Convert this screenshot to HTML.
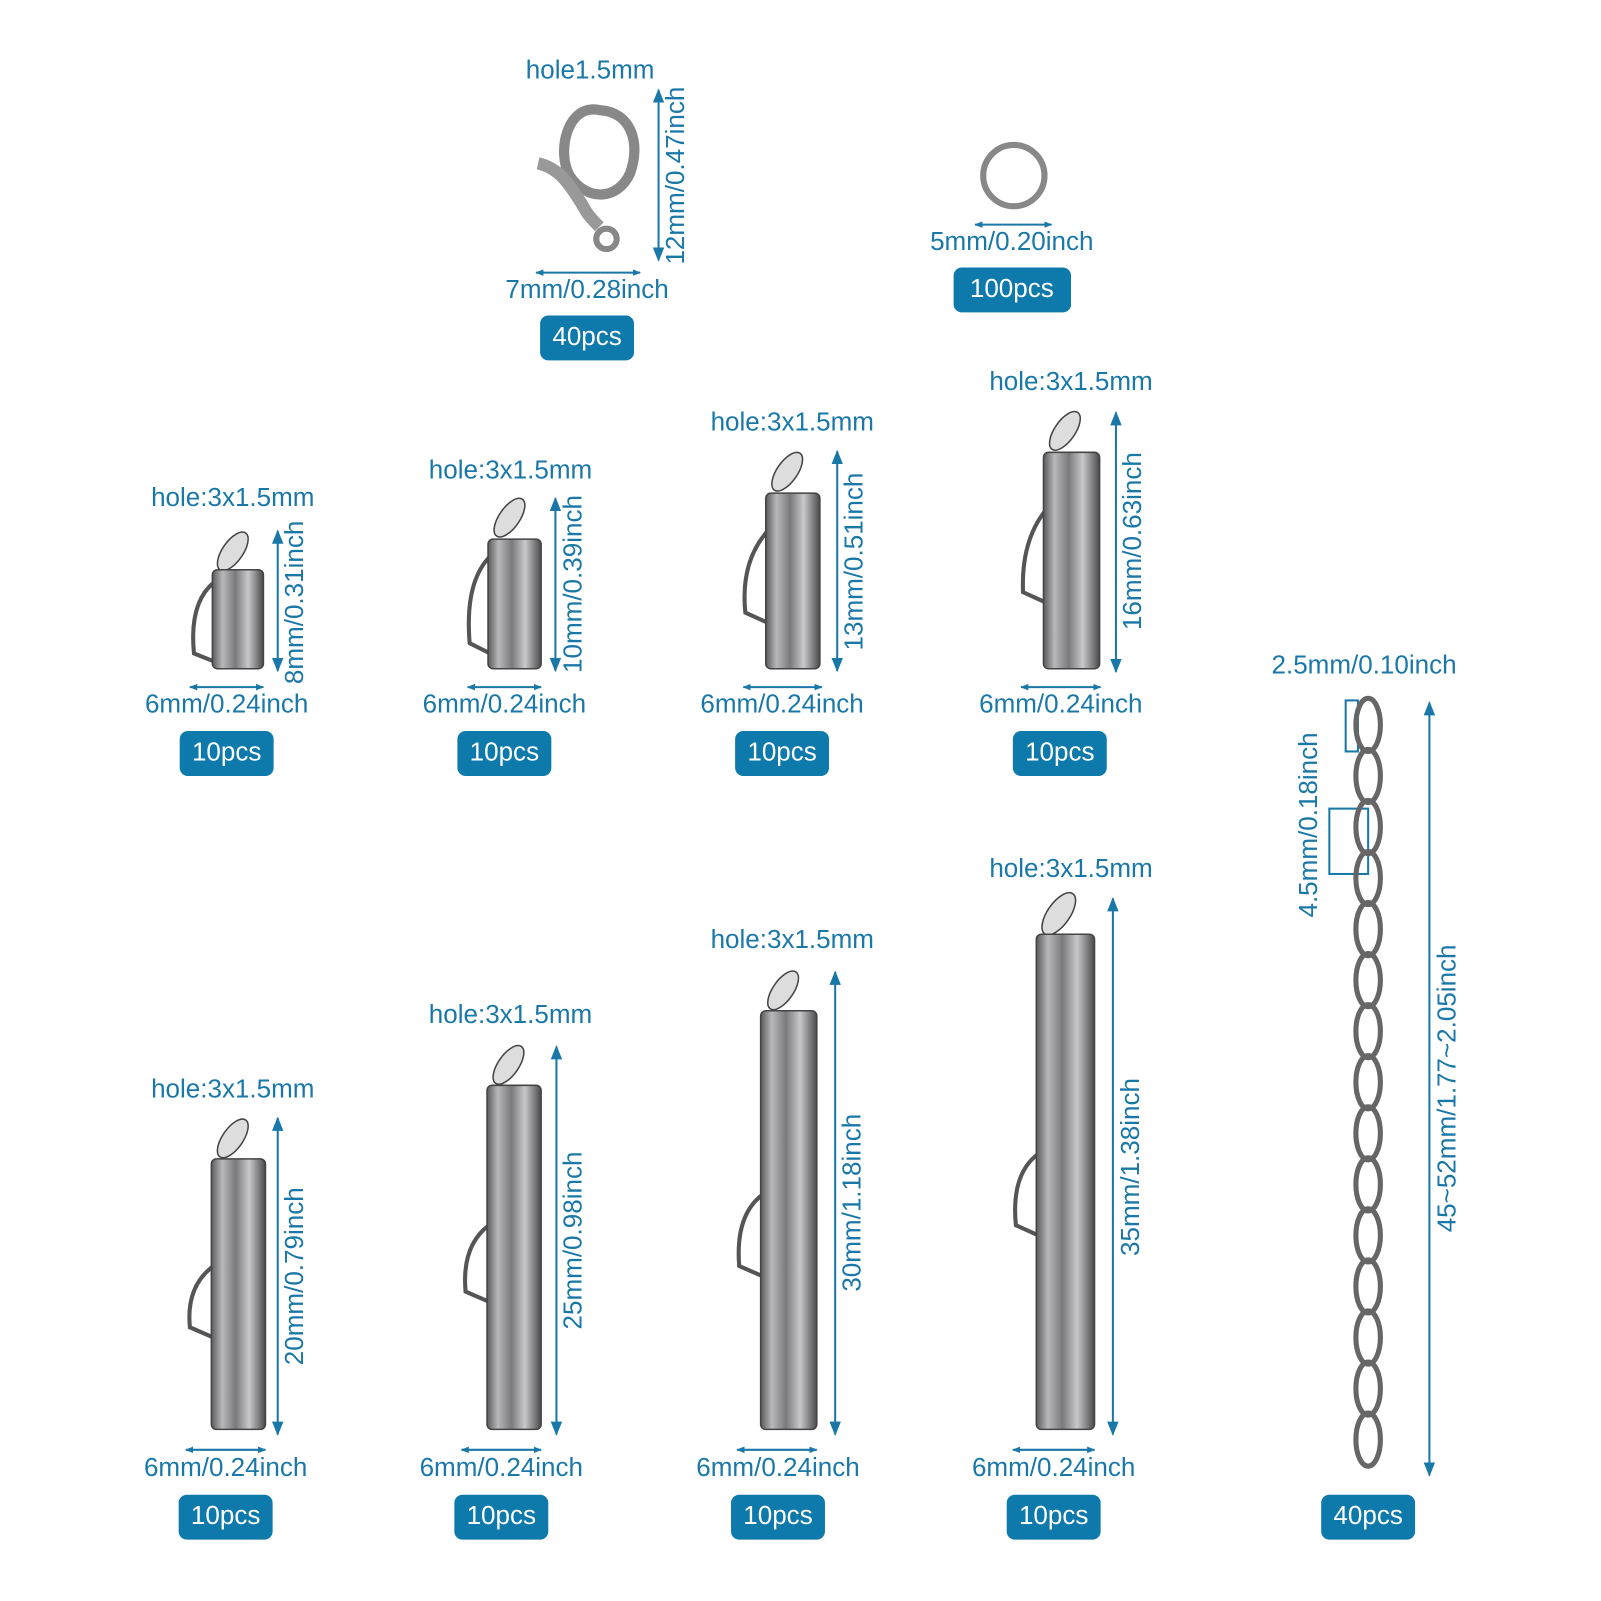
<!DOCTYPE html>
<html><head><meta charset="utf-8"><style>
html,body{margin:0;padding:0;background:#fff;}
svg{display:block;}
text{font-family:"Liberation Sans",sans-serif;font-size:25.5px;fill:#1a78a8;}
.b text{fill:#fff;}
</style></head><body>
<svg width="1601" height="1601" viewBox="0 0 1601 1601" xmlns="http://www.w3.org/2000/svg">
<defs>
<linearGradient id="g" x1="0" x2="1" y1="0" y2="0">
<stop offset="0" stop-color="#5a5a5c"/><stop offset="0.2" stop-color="#b8b8ba"/><stop offset="0.45" stop-color="#7a7a7c"/><stop offset="0.7" stop-color="#c8c8ca"/><stop offset="1" stop-color="#4a4a4c"/>
</linearGradient>
<marker id="a" viewBox="0 0 10 10" refX="9" refY="5" markerWidth="7" markerHeight="7" orient="auto-start-reverse"><path d="M0,1 L10,5 L0,9z" fill="#1a78a8"/></marker>
<marker id="s" viewBox="0 0 10 10" refX="9" refY="5" markerWidth="4" markerHeight="4" orient="auto-start-reverse"><path d="M0,1 L10,5 L0,9z" fill="#1a78a8"/></marker>
</defs>
<g transform="scale(1.021)">
<g stroke="#1a78a8" stroke-width="2" fill="none">
<line x1="272" y1="520" x2="272" y2="657" marker-start="url(#a)" marker-end="url(#a)"/>
<line x1="544" y1="488" x2="544" y2="657" marker-start="url(#a)" marker-end="url(#a)"/>
<line x1="820" y1="442" x2="820" y2="657" marker-start="url(#a)" marker-end="url(#a)"/>
<line x1="1093" y1="404" x2="1093" y2="658" marker-start="url(#a)" marker-end="url(#a)"/>
<line x1="272" y1="1095" x2="272" y2="1405" marker-start="url(#a)" marker-end="url(#a)"/>
<line x1="545" y1="1025" x2="545" y2="1405" marker-start="url(#a)" marker-end="url(#a)"/>
<line x1="818" y1="952" x2="818" y2="1405" marker-start="url(#a)" marker-end="url(#a)"/>
<line x1="1090" y1="880" x2="1090" y2="1405" marker-start="url(#a)" marker-end="url(#a)"/>
<line x1="1400" y1="688" x2="1400" y2="1445" marker-start="url(#a)" marker-end="url(#a)"/>
<line x1="645" y1="88" x2="645" y2="255" marker-start="url(#a)" marker-end="url(#a)"/>
<line x1="186" y1="673" x2="258" y2="673" marker-start="url(#s)" marker-end="url(#s)"/>
<line x1="458" y1="673" x2="530" y2="673" marker-start="url(#s)" marker-end="url(#s)"/>
<line x1="728" y1="673" x2="805" y2="673" marker-start="url(#s)" marker-end="url(#s)"/>
<line x1="1000" y1="673" x2="1078" y2="673" marker-start="url(#s)" marker-end="url(#s)"/>
<line x1="182" y1="1420" x2="260" y2="1420" marker-start="url(#s)" marker-end="url(#s)"/>
<line x1="452" y1="1420" x2="530" y2="1420" marker-start="url(#s)" marker-end="url(#s)"/>
<line x1="722" y1="1420" x2="800" y2="1420" marker-start="url(#s)" marker-end="url(#s)"/>
<line x1="992" y1="1420" x2="1072" y2="1420" marker-start="url(#s)" marker-end="url(#s)"/>
<line x1="525" y1="267" x2="627" y2="267" marker-start="url(#s)" marker-end="url(#s)"/>
<line x1="955" y1="220" x2="1030" y2="220" marker-start="url(#s)" marker-end="url(#s)"/>
<rect x="1318" y="686" width="12" height="50"/>
<rect x="1302" y="792" width="38" height="64"/>
</g>
<g stroke="#444" stroke-width="1.5">
<g fill="none" stroke="#555" stroke-width="4">
<path d="M210,570 Q185,590 190,640 L210,648"/>
<path d="M480,545 Q455,570 460,630 L480,640"/>
<path d="M752,520 Q725,550 730,600 L752,610"/>
<path d="M1024,500 Q1000,530 1002,580 L1024,590"/>
<path d="M209,1240 Q182,1260 186,1300 L209,1310"/>
<path d="M479,1200 Q452,1220 456,1265 L479,1275"/>
<path d="M747,1170 Q720,1190 724,1240 L747,1250"/>
<path d="M1017,1130 Q990,1150 995,1200 L1017,1210"/>
</g>
<ellipse cx="228" cy="540" rx="10" ry="22" transform="rotate(35 228 540)" fill="#ddd"/>
<rect x="208" y="558" width="50" height="97" rx="5" fill="url(#g)"/>
<ellipse cx="499" cy="507" rx="10" ry="22" transform="rotate(35 499 507)" fill="#ddd"/>
<rect x="478" y="528" width="52" height="127" rx="5" fill="url(#g)"/>
<ellipse cx="771" cy="462" rx="10" ry="22" transform="rotate(35 771 462)" fill="#ddd"/>
<rect x="750" y="483" width="53" height="172" rx="5" fill="url(#g)"/>
<ellipse cx="1043" cy="422" rx="10" ry="22" transform="rotate(35 1043 422)" fill="#ddd"/>
<rect x="1022" y="443" width="55" height="212" rx="5" fill="url(#g)"/>
<ellipse cx="228" cy="1115" rx="10" ry="22" transform="rotate(35 228 1115)" fill="#ddd"/>
<rect x="207" y="1135" width="53" height="265" rx="5" fill="url(#g)"/>
<ellipse cx="498" cy="1043" rx="10" ry="22" transform="rotate(35 498 1043)" fill="#ddd"/>
<rect x="477" y="1063" width="53" height="337" rx="5" fill="url(#g)"/>
<ellipse cx="767" cy="970" rx="10" ry="22" transform="rotate(35 767 970)" fill="#ddd"/>
<rect x="745" y="990" width="55" height="410" rx="5" fill="url(#g)"/>
<ellipse cx="1037" cy="895" rx="11" ry="24" transform="rotate(35 1037 895)" fill="#ddd"/>
<rect x="1015" y="915" width="57" height="485" rx="5" fill="url(#g)"/>
</g>
<g stroke="#555" fill="none">
<path d="M588,108 C555,100 545,150 558,172 C575,198 605,196 617,170 C628,140 618,110 588,108z" stroke-width="10" stroke="#888"/>
<path d="M527,160 C550,165 560,185 570,200 C575,210 580,215 587,222" stroke-width="12" stroke="#999"/>
<circle cx="594" cy="234" r="10" stroke-width="6" stroke="#888"/>
<circle cx="993" cy="172" r="30" stroke-width="6" stroke="#888"/>
</g>
<g fill="none" stroke="#666" stroke-width="5">
<ellipse cx="1340" cy="710" rx="12" ry="26"/><ellipse cx="1340" cy="760" rx="12" ry="26"/>
<ellipse cx="1340" cy="810" rx="12" ry="26"/><ellipse cx="1340" cy="860" rx="12" ry="26"/>
<ellipse cx="1340" cy="910" rx="12" ry="26"/><ellipse cx="1340" cy="960" rx="12" ry="26"/>
<ellipse cx="1340" cy="1010" rx="12" ry="26"/><ellipse cx="1340" cy="1060" rx="12" ry="26"/>
<ellipse cx="1340" cy="1110" rx="12" ry="26"/><ellipse cx="1340" cy="1160" rx="12" ry="26"/>
<ellipse cx="1340" cy="1210" rx="12" ry="26"/><ellipse cx="1340" cy="1260" rx="12" ry="26"/>
<ellipse cx="1340" cy="1310" rx="12" ry="26"/><ellipse cx="1340" cy="1360" rx="12" ry="26"/>
<ellipse cx="1340" cy="1410" rx="12" ry="26"/>
</g>
<g text-anchor="middle" dominant-baseline="middle">
<text x="578" y="70">hole1.5mm</text>
<text x="575" y="285">7mm/0.28inch</text>
<text x="991" y="238">5mm/0.20inch</text>
<text x="228" y="489">hole:3x1.5mm</text>
<text x="500" y="462">hole:3x1.5mm</text>
<text x="776" y="415">hole:3x1.5mm</text>
<text x="1049" y="375">hole:3x1.5mm</text>
<text x="222" y="691">6mm/0.24inch</text>
<text x="494" y="691">6mm/0.24inch</text>
<text x="766" y="691">6mm/0.24inch</text>
<text x="1039" y="691">6mm/0.24inch</text>
<text x="228" y="1068">hole:3x1.5mm</text>
<text x="500" y="995">hole:3x1.5mm</text>
<text x="776" y="922">hole:3x1.5mm</text>
<text x="1049" y="852">hole:3x1.5mm</text>
<text x="221" y="1439">6mm/0.24inch</text>
<text x="491" y="1439">6mm/0.24inch</text>
<text x="762" y="1439">6mm/0.24inch</text>
<text x="1032" y="1439">6mm/0.24inch</text>
<text x="1336" y="653">2.5mm/0.10inch</text>
<text transform="translate(663,172) rotate(-90)">12mm/0.47inch</text>
<text transform="translate(290,590) rotate(-90)">8mm/0.31inch</text>
<text transform="translate(563,572) rotate(-90)">10mm/0.39inch</text>
<text transform="translate(838,550) rotate(-90)">13mm/0.51inch</text>
<text transform="translate(1111,530) rotate(-90)">16mm/0.63inch</text>
<text transform="translate(290,1250) rotate(-90)">20mm/0.79inch</text>
<text transform="translate(563,1215) rotate(-90)">25mm/0.98inch</text>
<text transform="translate(836,1178) rotate(-90)">30mm/1.18inch</text>
<text transform="translate(1109,1143) rotate(-90)">35mm/1.38inch</text>
<text transform="translate(1283,808) rotate(-90)">4.5mm/0.18inch</text>
<text transform="translate(1419,1066) rotate(-90)">45~52mm/1.77~2.05inch</text>
</g>
<g class="b" text-anchor="middle" dominant-baseline="middle">
<rect x="529" y="309" width="92" height="44" rx="8" fill="#0e7aab"/><text x="575" y="331">40pcs</text>
<rect x="934" y="262" width="115" height="44" rx="8" fill="#0e7aab"/><text x="991" y="284">100pcs</text>
<rect x="176" y="716" width="92" height="44" rx="8" fill="#0e7aab"/><text x="222" y="738">10pcs</text>
<rect x="448" y="716" width="92" height="44" rx="8" fill="#0e7aab"/><text x="494" y="738">10pcs</text>
<rect x="720" y="716" width="92" height="44" rx="8" fill="#0e7aab"/><text x="766" y="738">10pcs</text>
<rect x="992" y="716" width="92" height="44" rx="8" fill="#0e7aab"/><text x="1038" y="738">10pcs</text>
<rect x="175" y="1464" width="92" height="44" rx="8" fill="#0e7aab"/><text x="221" y="1486">10pcs</text>
<rect x="445" y="1464" width="92" height="44" rx="8" fill="#0e7aab"/><text x="491" y="1486">10pcs</text>
<rect x="716" y="1464" width="92" height="44" rx="8" fill="#0e7aab"/><text x="762" y="1486">10pcs</text>
<rect x="986" y="1464" width="92" height="44" rx="8" fill="#0e7aab"/><text x="1032" y="1486">10pcs</text>
<rect x="1294" y="1464" width="92" height="44" rx="8" fill="#0e7aab"/><text x="1340" y="1486">40pcs</text>
</g>
</g>
</svg>
</body></html>
